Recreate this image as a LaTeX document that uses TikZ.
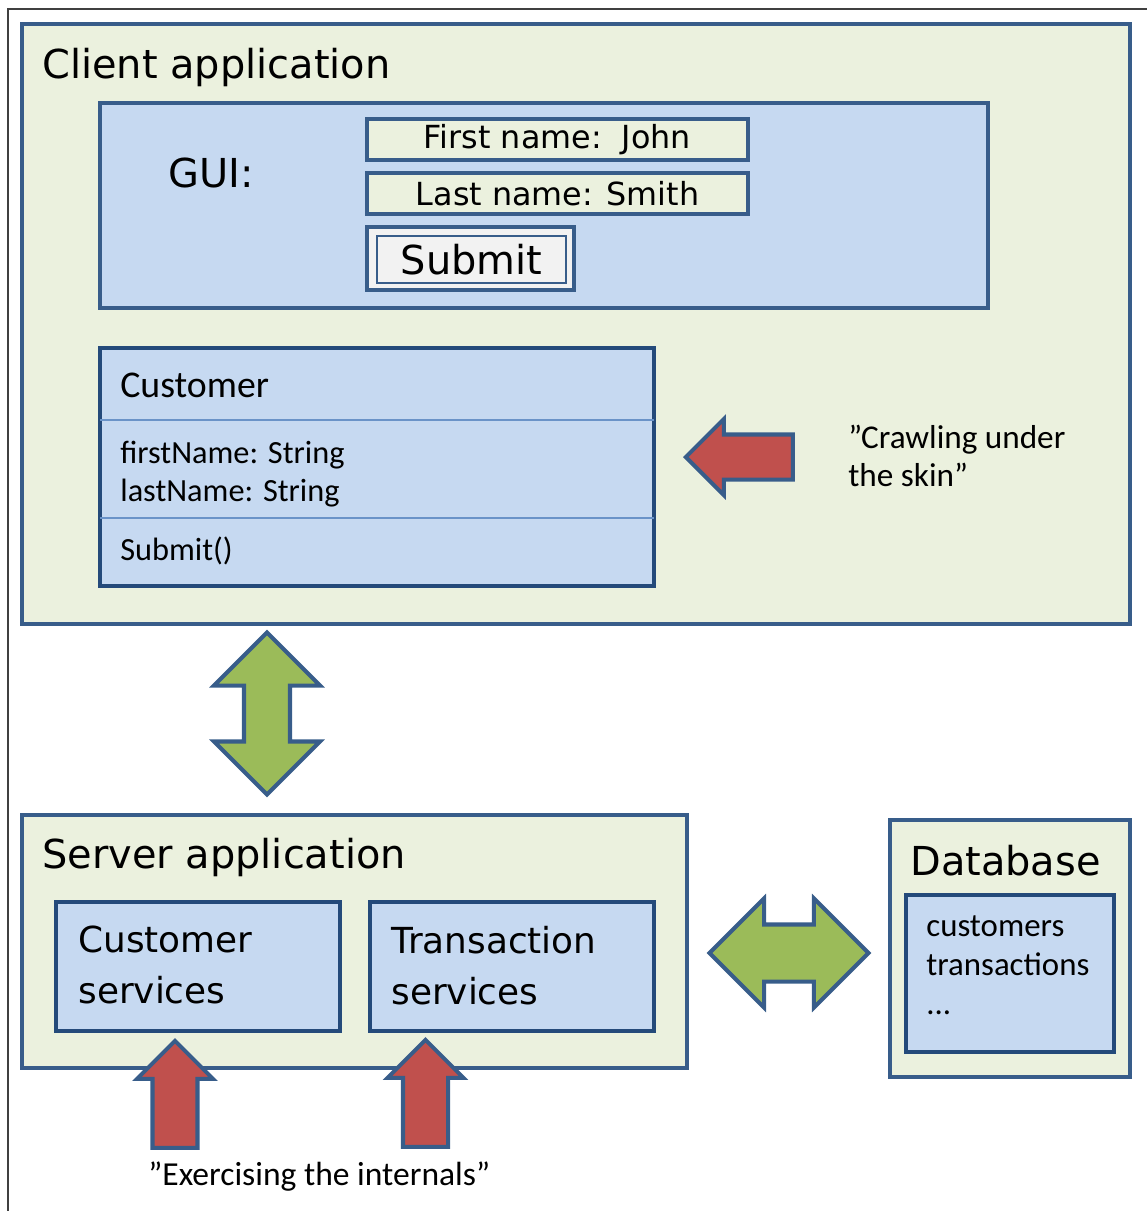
\documentclass[tikz,border=0pt]{standalone}
\usepackage{fontspec}
\setmainfont{DejaVu Sans}
\newfontfamily\calibri{Carlito}
\usepackage{tikz}
\usetikzlibrary{shapes.arrows, positioning, calc}
\definecolor{paleolive}{HTML}{EBF1DE}
\definecolor{paleblue}{HTML}{C6D9F1}
\definecolor{frameblue}{HTML}{385D8A}
\definecolor{deepblue}{HTML}{244A7A}
\definecolor{sepblue}{HTML}{6A93C8}
\definecolor{arrowred}{HTML}{C0504D}
\definecolor{arrowgreen}{HTML}{9BBB59}

\begin{document}
\begin{tikzpicture}[
  x=0.02cm, y=-0.02cm,
  panel/.style={
    rectangle, draw=frameblue, fill=paleolive, line width=2.3pt,
    anchor=north west, inner sep=0pt,
  },
  inbox/.style={
    rectangle, draw=deepblue, fill=paleblue, line width=2.3pt,
    anchor=north west, inner sep=0pt,
  },
  field/.style={
    rectangle, draw=frameblue, fill=paleolive, line width=2.3pt,
    minimum width=7.62cm, minimum height=0.82cm, inner sep=0pt,
    font=\fontsize{18.1}{20}\selectfont,
  },
  title/.style={font=\fontsize{22.7}{27}\selectfont, anchor=base west, inner sep=0pt},
  service/.style={font=\fontsize{20.4}{28.9}\selectfont, align=left, anchor=north west, inner sep=0pt},
  body/.style={font=\calibri\fontsize{18.4}{21.8}\selectfont, align=left, inner sep=0pt},
  blockarrow/.style={draw=frameblue, line width=2.3pt, minimum width=0pt},
  redarrow/.style={
    blockarrow, single arrow, fill=arrowred, anchor=tip,
    minimum height=2.14cm, inner sep=0.41cm, single arrow head extend=0.31cm,
  },
]
  \useasboundingbox (0,0) rectangle (1147,1211);
  \draw[black!75, line width=0.9pt] (8,1211) |- (1147,9);

  % Client side
  \node[panel, minimum width=22.16cm, minimum height=12cm] (client) at (20,22) {};
  \node[title] (clienttitle) at (42,78) {Client application};

  \node[panel, fill=paleblue, minimum width=17.76cm, minimum height=4.1cm] (gui) at (98,101) {};
  \node[title] (guilabel) at (168,187) {GUI:};
  \node[field] (first) at (557.5,139.5) {First name:\ \ John};
  \node[field] (last) at (557.5,193.5) {Last name: Smith};
  \node[rectangle, draw=frameblue, fill=black!5, line width=2.3pt,
    minimum width=4.14cm, minimum height=1.26cm] (submitframe) at (470.5,258.5) {};
  \node[rectangle, draw=frameblue, fill=black!5, line width=1.1pt,
    minimum width=3.78cm, minimum height=0.94cm, inner sep=0pt,
    font=\fontsize{22.7}{27}\selectfont] (submit) at (471.5,259.5) {Submit};

  \node[inbox, minimum width=11.08cm, minimum height=4.76cm] (cls) at (98,346) {};
  \draw[sepblue, line width=0.9pt] ($(cls.north west)+(2,74)$) -- ($(cls.north east)+(-2,74)$);
  \draw[sepblue, line width=0.9pt] ($(cls.north west)+(2,172)$) -- ($(cls.north east)+(-2,172)$);
  \node[body, font=\calibri\fontsize{21.5}{24}\selectfont, anchor=base west] (clsname) at (120,397) {Customer};
  \node[body, anchor=west] (clsattr) at (120,474) {firstName: String\\lastName: String};
  \node[body, anchor=base west] (clsop) at (120,560) {Submit()};

  \node[redarrow, shape border rotate=180] (crawlarrow) at (683,457) {};
  \node[body, font=\calibri\fontsize{18.9}{21.8}\selectfont, anchor=west] (crawl) at (848,456) {”Crawling under\\the skin”};

  % Client <-> server
  \node[blockarrow, double arrow, fill=arrowgreen, shape border rotate=90,
    minimum height=3.24cm, inner sep=0.42cm, double arrow head extend=0.6cm] (csarrow) at (267,713.5) {};

  % Server side
  \node[panel, minimum width=13.3cm, minimum height=5.06cm] (server) at (20,813) {};
  \node[title] (servertitle) at (42,868) {Server application};
  \node[inbox, minimum width=5.68cm, minimum height=2.58cm] (custsvc) at (54,900) {};
  \node[inbox, minimum width=5.68cm, minimum height=2.58cm] (transvc) at (368,900) {};
  \node[service] (custsvctext) at (78,926) {Customer\\services};
  \node[service] (transvctext) at (391,926) {Transaction\\services};

  % Server <-> database
  \node[blockarrow, double arrow, fill=arrowgreen,
    minimum height=3.18cm, inner sep=0.53cm, double arrow head extend=0.52cm] (sdarrow) at (789,953) {};

  \node[panel, minimum width=4.8cm, minimum height=5.14cm] (db) at (888,818) {};
  \node[title] (dbtitle) at (910,875) {Database};
  \node[inbox, minimum width=4.16cm, minimum height=3.14cm] (tables) at (904,893) {};
  \node[body, font=\calibri\fontsize{18.7}{22.4}\selectfont, anchor=north west] (tablelist) at (926,915) {customers\\transactions\\...};

  % Exercising the internals
  \node[redarrow, shape border rotate=90] (custarrow) at (175,1038) {};
  \node[redarrow, shape border rotate=90] (transarrow) at (425.5,1037) {};
  \node[body, font=\calibri\fontsize{19.1}{22}\selectfont, anchor=base west] (exercise) at (148,1185) {”Exercising the internals”};
\end{tikzpicture}
\end{document}
